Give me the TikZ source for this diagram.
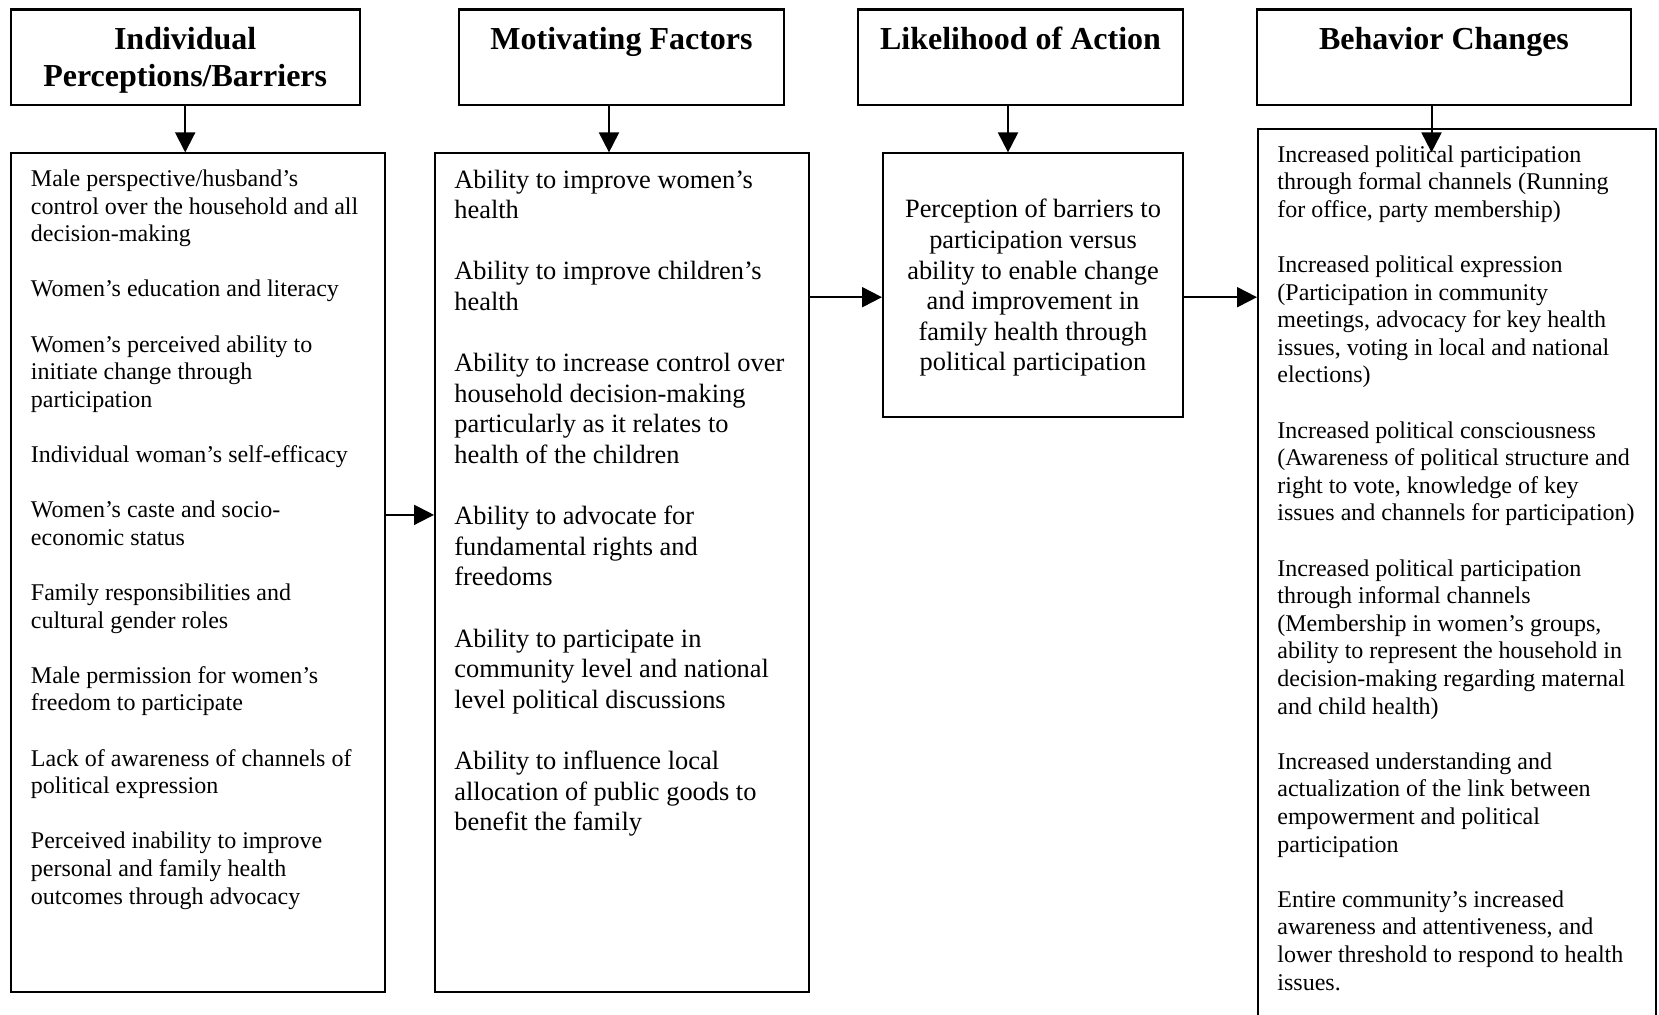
\documentclass[tikz,border=0pt]{standalone}
\usepackage{fontspec}
\setmainfont{Liberation Serif}
\usetikzlibrary{arrows.meta}

\tikzset{
  every node/.style={inner sep=0pt},
  head/.style={draw,line width=1.1pt,align=center,text depth=0pt,font=\fontsize{16}{18.5}\selectfont\bfseries},
  box/.style={draw,line width=1pt},
  small/.style={align=left,font=\fontsize{12}{13.8}\selectfont},
  big/.style={align=left,font=\fontsize{13.2}{15.3}\selectfont},
  arr/.style={line width=1pt,-{Triangle[length=10pt,width=10pt]}}
}

\begin{document}
\begin{tikzpicture}[x=0.5pt,y=0.5pt]
      \useasboundingbox (0,0) rectangle (1659,-1015);
      \clip (0,0) rectangle (1659,-1015);

      % headings
      \node [head,minimum width=174.5pt,minimum height=47.6pt] (h1) at (185.2,-57.1) {Individual\\Perceptions/Barriers};
      \node [head,minimum width=162.5pt,minimum height=47.6pt] (h2) at (621.5,-57.1) {Motivating Factors\\~};
      \node [head,minimum width=162.5pt,minimum height=47.6pt] (h3) at (1020.5,-57.1) {Likelihood of Action\\~};
      \node [head,minimum width=187pt,minimum height=47.6pt] (h4) at (1444,-57.1) {Behavior Changes\\~};

      % boxes
      \node [box,minimum width=187.2pt,minimum height=419.5pt] (b1) at (197.8,-572.9) {};
      \node [box,minimum width=187pt,minimum height=419.5pt] (b2) at (622,-572.9) {};
      \node [box,big,align=center,text depth=0pt,minimum width=150pt,minimum height=131.75pt] (b3) at (1033,-285.2)
        {Perception of barriers to\\participation versus\\ability to enable change\\and improvement in\\family health through\\political participation};
      \node [box,minimum width=199pt,minimum height=448pt] (b4) at (1457,-577) {};

      % texts
      \node [small,anchor=north west] (t1) at ([shift={(21,-17)}]b1.north west)
        {Male perspective/husband’s\\control over the household and all\\decision-making\\[\baselineskip]
         Women’s education and literacy\\[\baselineskip]
         Women’s perceived ability to\\initiate change through\\participation\\[\baselineskip]
         Individual woman’s self-efficacy\\[\baselineskip]
         Women’s caste and socio-\\economic status\\[\baselineskip]
         Family responsibilities and\\cultural gender roles\\[\baselineskip]
         Male permission for women’s\\freedom to participate\\[\baselineskip]
         Lack of awareness of channels of\\political expression\\[\baselineskip]
         Perceived inability to improve\\personal and family health\\outcomes through advocacy};
      \node [big,anchor=north west] (t2) at ([shift={(20,-17)}]b2.north west)
        {Ability to improve women’s\\health\\[\baselineskip]
         Ability to improve children’s\\health\\[\baselineskip]
         Ability to increase control over\\household decision-making\\particularly as it relates to\\health of the children\\[\baselineskip]
         Ability to advocate for\\fundamental rights and\\freedoms\\[\baselineskip]
         Ability to participate in\\community level and national\\level political discussions\\[\baselineskip]
         Ability to influence local\\allocation of public goods to\\benefit the family};
      \node [small,anchor=north west] (t4) at ([shift={(20,-17)}]b4.north west)
        {Increased political participation\\through formal channels (Running\\for office, party membership)\\[\baselineskip]
         Increased political expression\\(Participation in community\\meetings, advocacy for key health\\issues, voting in local and national\\elections)\\[\baselineskip]
         Increased political consciousness\\(Awareness of political structure and\\right to vote, knowledge of key\\issues and channels for participation)\\[\baselineskip]
         Increased political participation\\through informal channels\\(Membership in women’s groups,\\ability to represent the household in\\decision-making regarding maternal\\and child health)\\[\baselineskip]
         Increased understanding and\\actualization of the link between\\empowerment and political\\participation\\[\baselineskip]
         Entire community’s increased\\awareness and attentiveness, and\\lower threshold to respond to health\\issues.};

      % arrows
      \foreach \h/\b/\s in {h1/b1/0,h2/b2/-6.25,h3/b3/-6.25,h4/b4/-6.25}
        \draw [arr] ([xshift=\s pt]\h.south) -- ([xshift=\s pt]\h.south |- b1.north);
      \draw [arr] ([yshift=29pt]b1.east) -- ([yshift=29pt]b1.east -| b2.west);
      \draw [arr] ([yshift=-6pt]b3.west -| b2.east) -- ([yshift=-6pt]b3.west);
      \draw [arr] ([yshift=-6pt]b3.east) -- ([yshift=-6pt]b3.east -| b4.west);
    \end{tikzpicture}
\end{document}
